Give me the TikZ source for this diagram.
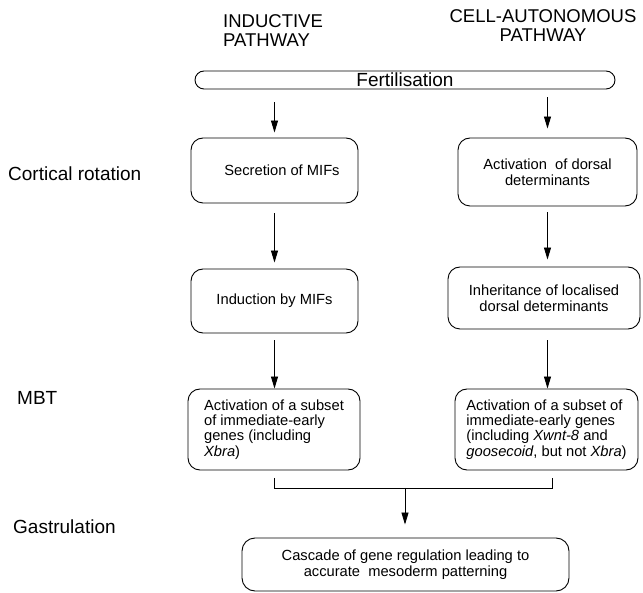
\documentclass[tikz,border=0pt]{standalone}
\usepackage{fontspec}
\setmainfont{Liberation Sans}
\usetikzlibrary{arrows.meta}
\begin{document}
\begin{tikzpicture}[x=1pt,y=-1pt,
  box/.style={draw, rounded corners=12pt, line width=0.9pt, align=center, inner sep=0pt, font=\fontsize{14.7}{16}\selectfont},
  arr/.style={-{Triangle[length=12pt,width=7pt]}, line width=0.9pt},
  conn/.style={line width=0.9pt},
  lab/.style={anchor=west, inner sep=0pt, font=\fontsize{19}{19}\selectfont},
  head/.style={inner sep=0pt, font=\fontsize{18.5}{18.5}\selectfont}]
\useasboundingbox (0,0) rectangle (643,593);
% headings
\node[head, anchor=west, align=left] (hl) at (223,30.75) {INDUCTIVE\\PATHWAY};
\node[head, align=center] (hr) at (543,25.75) {CELL-AUTONOMOUS\\PATHWAY};
% stage labels
\node[lab] (cr) at (8,174) {Cortical rotation};
\node[lab] (mbt) at (17,398) {MBT};
\node[lab] (gas) at (13,527) {Gastrulation};
% fertilisation bar
\node[box, minimum width=420pt, minimum height=18pt, rounded corners=9pt, font=\fontsize{19}{19}\selectfont] (fert) at (405,80) {Fertilisation};
% left column
\node[box, minimum width=167pt, minimum height=65pt] (lb1) at (274.5,170.5) {\hspace*{15pt}Secretion of MIFs};
\node[box, minimum width=167pt, minimum height=64pt] (lb2) at (274.5,301) {Induction by MIFs};
\node[box, minimum width=172pt, minimum height=81pt, align=left, font=\fontsize{14.7}{15.3}\selectfont] (lb3) at (274,429.5)
  {Activation of a subset\\of immediate-early\\genes (including\\\textit{Xbra})};
% right column
\node[box, minimum width=179pt, minimum height=68pt] (rb1) at (547.5,172) {Activation\ \ of dorsal\\determinants};
\node[box, minimum width=192pt, minimum height=62pt] (rb2) at (544,298) {Inheritance of localised\\dorsal determinants};
\node[box, minimum width=183pt, minimum height=81pt, align=left, font=\fontsize{14.7}{15.3}\selectfont] (rb3) at (546.5,429.5)
  {Activation of a subset of\\immediate-early genes\\(including \textit{Xwnt-8} and\\\textit{goosecoid}, but not \textit{Xbra})};
% bottom
\node[box, minimum width=327pt, minimum height=53pt, rounded corners=13pt] (bot) at (405.5,564.5) {Cascade of gene regulation leading to\\accurate\ \ mesoderm patterning};
% arrows left
\draw[arr, shorten <=13pt, shorten >=5pt] (fert.south -| lb1.north) -- (lb1.north);
\draw[arr, shorten <=10pt, shorten >=6pt] (lb1.south) -- (lb2.north);
\draw[arr, shorten <=7pt] (lb2.south) -- (lb2.south |- lb3.north);
% arrows right
\draw[arr, shorten <=8pt, shorten >=9pt] (fert.south -| rb1.north) -- (rb1.north);
\draw[arr, shorten <=6pt, shorten >=7pt] (rb1.south) -- (rb1.south |- rb2.north);
\draw[arr, shorten <=11pt] (rb1.south |- rb2.south) -- (rb1.south |- rb3.north);
% bracket
\coordinate (blt) at (274,478);
\coordinate (bl) at (274,488);
\coordinate (br) at (552,488);
\coordinate (brt) at (552,478);
\coordinate (bm) at (405,488);
\draw[conn] (blt) -- (bl) -- (br) -- (brt);
\draw[arr, shorten >=13pt] (bm) -- (bm |- bot.north);
\end{tikzpicture}
\end{document}
